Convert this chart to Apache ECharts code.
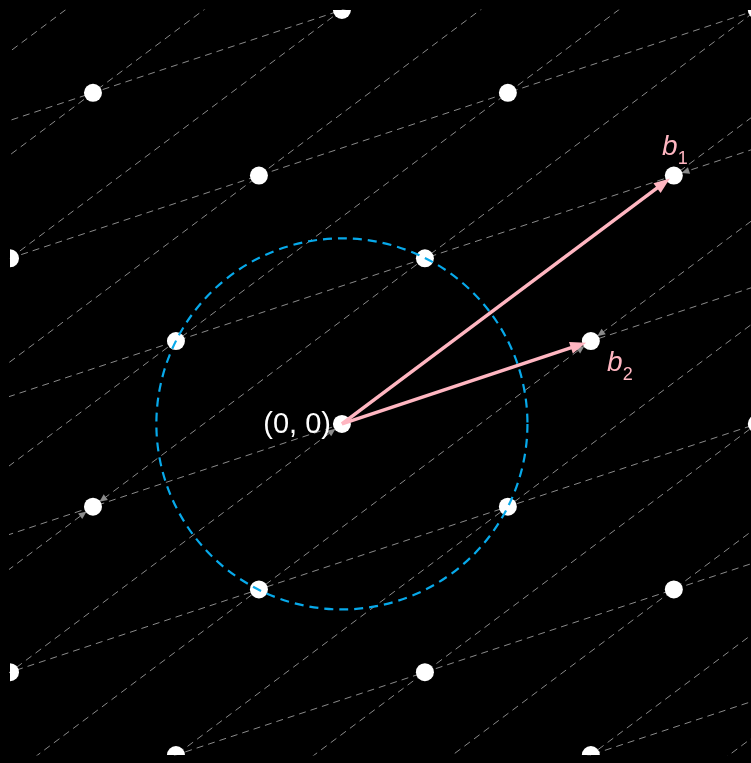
<!DOCTYPE html>
<html>
<head>
<meta charset="utf-8">
<title>Lattice basis</title>
<script src="https://cdn.jsdelivr.net/npm/echarts@6/dist/echarts.min.js"></script>
<style>
    html, body { margin: 0; padding: 0; background: #000; }
    #main { width: 751px; height: 763px; }
</style>
</head>
<body>
<div id="main"></div>
<script>
// lattice basis vectors
var basisB1 = [4, 3];
var basisB2 = [3, 1];
var origin = [0, 0];
// shortest lattice vector -> radius of the dashed circle
var shortVec = [1, 2];
// visible window, data units (right side is cut by the page edge)
var xRange = [-4, 4.93];
var yRange = [-4, 5];
// integer coefficients used to build points and grid lines
var coefRange = [-12, 12];
// small gray arrowheads: [from, to] as (b1, b2) coefficients
var grayArrows = [
    [[-1, 0], [0, 0]],
    [[1, -1], [0, -1]],
    [[-1, -1], [0, -1]],
    [[1, 1], [1, 0]],
    [[1, 1], [0, 1]],
    [[-1, 1], [0, 1]]
];
// labels
var originLabel = '(0, 0)';
var b1Label = ['b', '1'];
var b2Label = ['b', '2'];

var PINK = '#ffb6c1';
var GRAY = '#8a8a8a';
var BLUE = '#07a9ea';

function comb(m, k) {
    return [m * basisB1[0] + k * basisB2[0], m * basisB1[1] + k * basisB2[1]];
}
function inWindow(p, pad) {
    return p[0] >= xRange[0] - pad && p[0] <= xRange[1] + pad &&
        p[1] >= yRange[0] - pad && p[1] <= yRange[1] + pad;
}

var latticePoints = [];
var gridLines = [];
for (var m = coefRange[0]; m <= coefRange[1]; m++) {
    for (var k = coefRange[0]; k <= coefRange[1]; k++) {
        var p = comb(m, k);
        if (inWindow(p, 0.3)) latticePoints.push(p);
    }
    gridLines.push({ coords: [comb(m, -40), comb(m, 40)] }); // along b2
    gridLines.push({ coords: [comb(-20, m), comb(20, m)] }); // along b1
}

var pinkArrowData = [origin.concat(basisB1), origin.concat(basisB2)];
var grayArrowData = grayArrows.map(function (a) {
    return comb(a[0][0], a[0][1]).concat(comb(a[1][0], a[1][1]));
});
var circleRadius = Math.sqrt(shortVec[0] * shortVec[0] + shortVec[1] * shortVec[1]);

function unitDir(p0, p1) {
    var dx = p1[0] - p0[0], dy = p1[1] - p0[1];
    var len = Math.sqrt(dx * dx + dy * dy);
    return [dx / len, dy / len];
}

var chart = echarts.init(document.getElementById('main'));
var option = {
    backgroundColor: '#000',
    animation: false,
    grid: { left: 10, top: 10, right: 0, bottom: 8 },
    xAxis: { type: 'value', min: xRange[0], max: xRange[1], show: false },
    yAxis: { type: 'value', min: yRange[0], max: yRange[1], show: false },
    series: [
        {
            // dashed grid along b1 and b2
            type: 'lines',
            coordinateSystem: 'cartesian2d',
            clip: true,
            z: 1,
            silent: true,
            lineStyle: { color: GRAY, width: 1, type: [7, 5], opacity: 1 },
            data: gridLines
        },
        {
            type: 'custom',
            z: 2,
            silent: true,
            data: grayArrowData,
            renderItem: function (params, api) {
                var p0 = api.coord([api.value(0), api.value(1)]);
                var p1 = api.coord([api.value(2), api.value(3)]);
                var u = unitDir(p0, p1);
                var tip = [p1[0] - u[0] * 8, p1[1] - u[1] * 8];
                var base = [tip[0] - u[0] * 8, tip[1] - u[1] * 8];
                return {
                    type: 'polygon',
                    shape: { points: [tip, [base[0] - u[1] * 3.5, base[1] + u[0] * 3.5], [base[0] + u[1] * 3.5, base[1] - u[0] * 3.5]] },
                    style: { fill: GRAY }
                };
            }
        },
        {
            // lattice points
            type: 'custom',
            z: 3,
            clip: true,
            silent: true,
            data: latticePoints,
            renderItem: function (params, api) {
                var c = api.coord([api.value(0), api.value(1)]);
                return { type: 'circle', shape: { cx: c[0], cy: c[1], r: 9 }, style: { fill: '#fff' } };
            }
        },
        {
            // dashed circle through the shortest vectors
            type: 'custom',
            z: 4,
            silent: true,
            data: [origin.concat([circleRadius])],
            renderItem: function (params, api) {
                var c = api.coord([api.value(0), api.value(1)]);
                var r = api.size([api.value(2), 0])[0];
                return {
                    type: 'circle',
                    shape: { cx: c[0], cy: c[1], r: r },
                    style: { fill: 'none', stroke: BLUE, lineWidth: 2.2, lineDash: [9, 6] }
                };
            }
        },
        {
            // basis arrows
            type: 'custom',
            z: 5,
            silent: true,
            data: pinkArrowData,
            renderItem: function (params, api) {
                var p0 = api.coord([api.value(0), api.value(1)]);
                var p1 = api.coord([api.value(2), api.value(3)]);
                var u = unitDir(p0, p1);
                var tip = [p1[0] - u[0] * 5, p1[1] - u[1] * 5];
                var base = [tip[0] - u[0] * 16, tip[1] - u[1] * 16];
                return {
                    type: 'group',
                    children: [
                        {
                            type: 'line',
                            shape: { x1: p0[0], y1: p0[1], x2: base[0] + u[0] * 2, y2: base[1] + u[1] * 2 },
                            style: { stroke: PINK, lineWidth: 3.5 }
                        },
                        {
                            type: 'polygon',
                            shape: { points: [tip, [base[0] - u[1] * 6, base[1] + u[0] * 6], [base[0] + u[1] * 6, base[1] - u[0] * 6]] },
                            style: { fill: PINK }
                        }
                    ]
                };
            }
        },
        {
            // labels
            type: 'custom',
            z: 6,
            silent: true,
            data: [[0]],
            renderItem: function (params, api) {
                var o = api.coord(origin);
                var q1 = api.coord(basisB1);
                var q2 = api.coord(basisB2);
                function txt(s, x, y, size, color, italic, align) {
                    return {
                        type: 'text', x: x, y: y,
                        style: {
                            text: s, fill: color,
                            font: (italic ? 'italic ' : '') + size + 'px "Liberation Sans", sans-serif',
                            align: align || 'center', textAlign: align || 'center',
                            verticalAlign: 'middle', textVerticalAlign: 'middle'
                        }
                    };
                }
                return {
                    type: 'group',
                    children: [
                        txt(originLabel, o[0] - 11, o[1] + 1, 29, '#fff', false, 'right'),
                        txt(b1Label[0], q1[0] - 4, q1[1] - 28, 28, PINK, true),
                        txt(b1Label[1], q1[0] + 9, q1[1] - 17, 18, PINK, false),
                        txt(b2Label[0], q2[0] + 24, q2[1] + 22, 28, PINK, true),
                        txt(b2Label[1], q2[0] + 37, q2[1] + 34, 18, PINK, false)
                    ]
                };
            }
        }
    ]
};
chart.setOption(option);

window.onresize = function () {
    chart.resize();
};
</script>
</body>
</html>
